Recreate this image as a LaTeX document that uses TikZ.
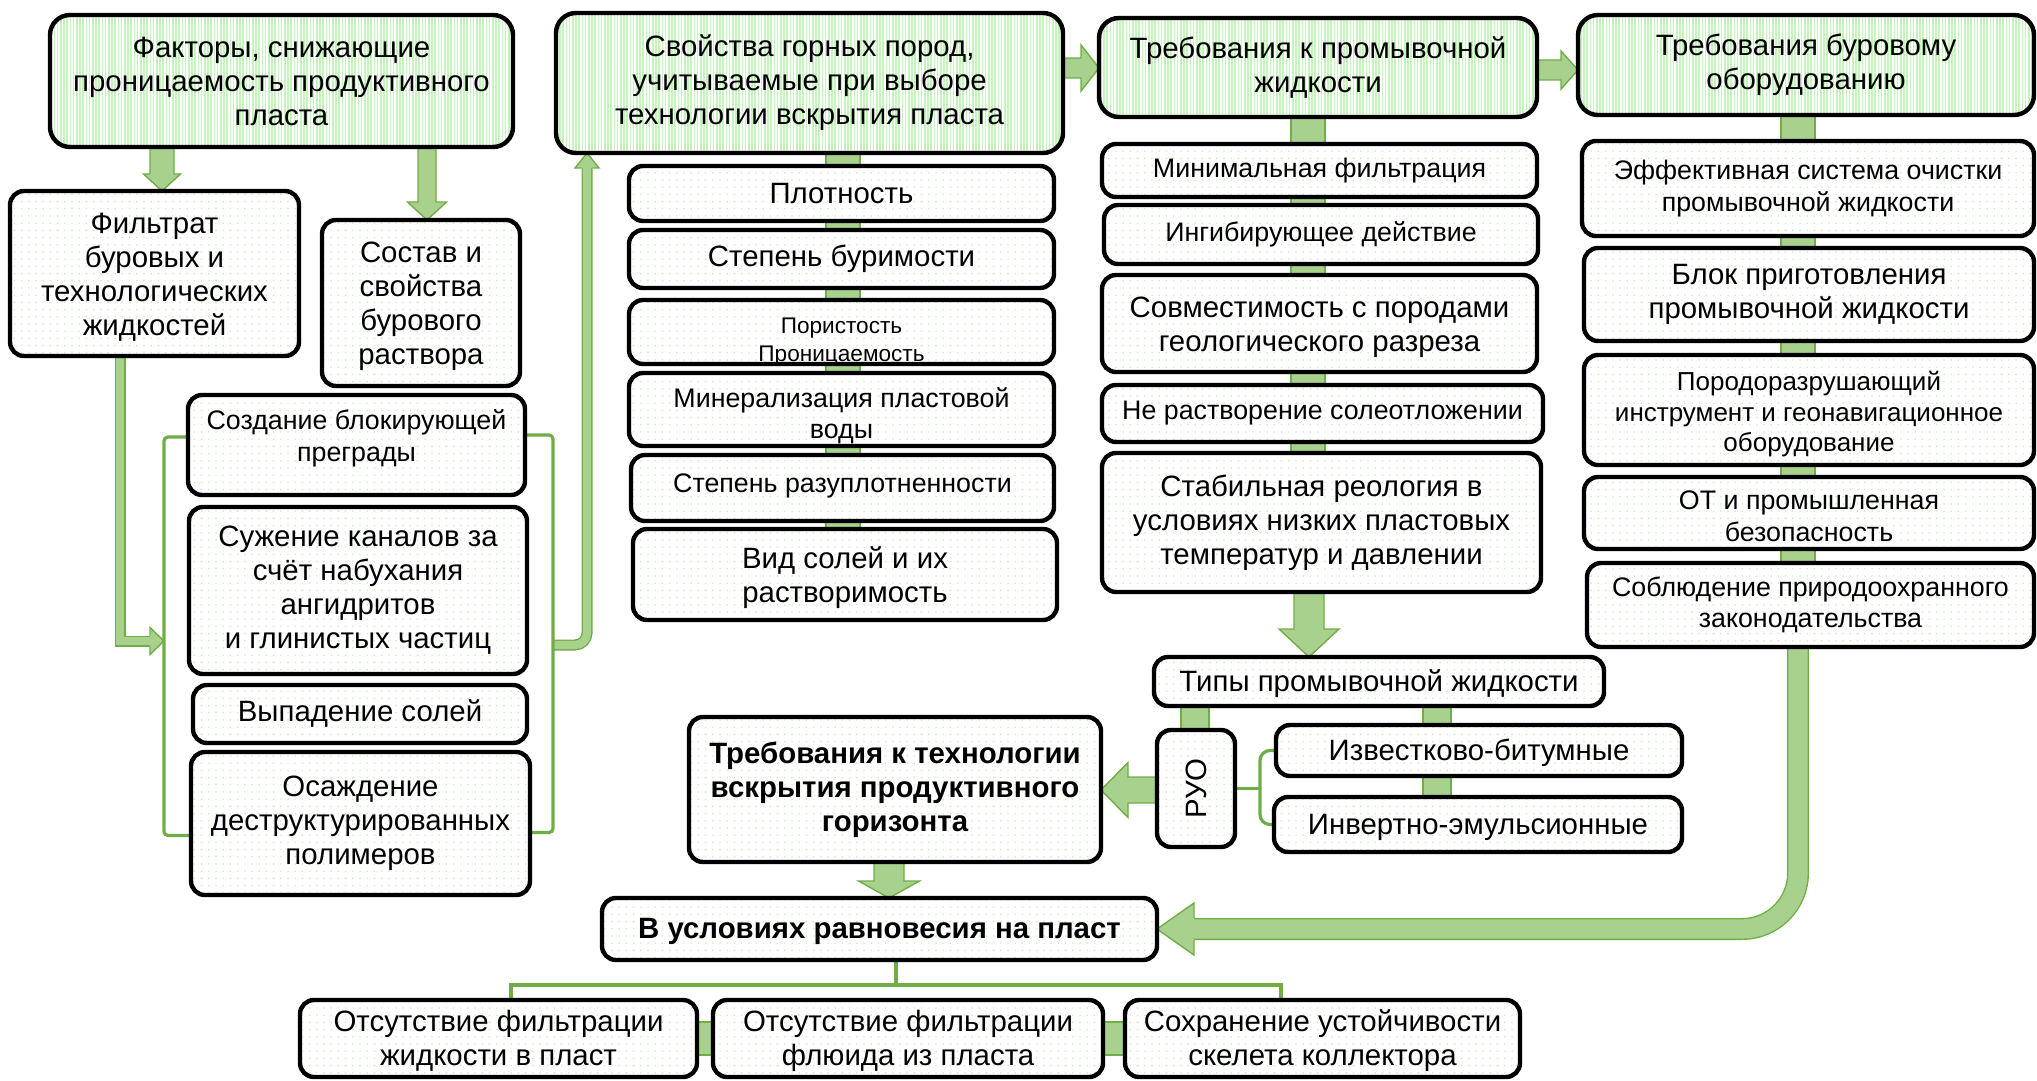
\documentclass[tikz,border=0pt]{standalone}
\usepackage{fontspec}
\usepackage{graphicx}
\setmainfont{Liberation Sans}
\usetikzlibrary{calc,patterns.meta}
\pgfdeclarelayer{bg}
\pgfsetlayers{bg,main}
\definecolor{barg}{RGB}{169,209,142}
\definecolor{bard}{RGB}{112,173,71}
\definecolor{stripe}{RGB}{196,244,188}
\definecolor{dotc}{RGB}{196,234,186}
\newcommand\fA{\fontsize{14.7}{17}\selectfont}
\newcommand\fB{\fontsize{13.4}{15.8}\selectfont}
\newcommand\fC{\fontsize{13}{15.3}\selectfont}
\newcommand\fD{\fontsize{11.3}{13.6}\selectfont}
% text block moved up/down inside its box without changing the box size
\newcommand\mv[2]{\raisebox{#1}[\height][\depth]{\begin{tabular}{@{}c@{}}#2\end{tabular}}}
% box given by its corners x1 y1 x2 y2 (pixel grid)
\newcommand\bx[7]{\node[#6, minimum width={(#4-#2)*0.5pt}, minimum height={(#5-#3)*0.5pt}] (#1) at ({(#2+#4)/2},{(#3+#5)/2}) {#7};}
% block arrows: from, to, shaft width, head width, head length
\newcommand\arrD[5]{\path[blk] let \p1=#1, \p2=#2 in
  ({\x1-#3/2},\y1) -- ({\x1+#3/2},\y1) -- ({\x1+#3/2},{\y2+#5}) -- ({\x1+#4/2},{\y2+#5})
  -- (\x1,\y2) -- ({\x1-#4/2},{\y2+#5}) -- ({\x1-#3/2},{\y2+#5}) -- cycle;}
\newcommand\arrR[5]{\path[blk] let \p1=#1, \p2=#2 in
  (\x1,{\y1+#3/2}) -- ({\x2-#5},{\y1+#3/2}) -- ({\x2-#5},{\y1+#4/2}) -- (\x2,\y1)
  -- ({\x2-#5},{\y1-#4/2}) -- ({\x2-#5},{\y1-#3/2}) -- (\x1,{\y1-#3/2}) -- cycle;}
\newcommand\arrL[5]{\path[blk] let \p1=#1, \p2=#2 in
  (\x1,{\y1+#3/2}) -- ({\x2+#5},{\y1+#3/2}) -- ({\x2+#5},{\y1+#4/2}) -- (\x2,\y1)
  -- ({\x2+#5},{\y1-#4/2}) -- ({\x2+#5},{\y1-#3/2}) -- (\x1,{\y1-#3/2}) -- cycle;}
% arrow heads only: tip, shaft width, head width, head length
\newcommand\hdR[4]{\path[blk] let \p1=#1 in ({\x1-#4},{\y1+#2/2}) -- ({\x1-#4},{\y1+#3/2}) -- (\x1,\y1) -- ({\x1-#4},{\y1-#3/2}) -- ({\x1-#4},{\y1-#2/2});}
\newcommand\hdL[4]{\path[blk] let \p1=#1 in ({\x1+#4},{\y1+#2/2}) -- ({\x1+#4},{\y1+#3/2}) -- (\x1,\y1) -- ({\x1+#4},{\y1-#3/2}) -- ({\x1+#4},{\y1-#2/2});}
\newcommand\hdU[4]{\path[blk] let \p1=#1 in ({\x1-#2/2},{\y1-#4}) -- ({\x1-#3/2},{\y1-#4}) -- (\x1,\y1) -- ({\x1+#3/2},{\y1-#4}) -- ({\x1+#2/2},{\y1-#4});}
% outlined thick shaft: outer width, inner width, options, path
\newcommand\shaft[4]{\draw[bard, line width=#1, #3] #4; \draw[barg, line width=#2, #3] #4;}

\begin{document}
\begin{tikzpicture}[x=0.5pt,y=-0.5pt,
  box/.style={draw=black, line width=2.2pt, align=center, inner sep=0pt, outer sep=0pt, preaction={fill=white}},
  hdr/.style={box, rounded corners=10pt, pattern={Lines[angle=90,distance=1.6pt,line width=0.8pt]}, pattern color=stripe, font=\fA},
  itm/.style={box, rounded corners=7pt, pattern={Dots[distance=3.6pt,radius=0.4pt]}, pattern color=dotc, font=\fA},
  blk/.style={fill=barg, draw=bard, line width=0.7pt, line join=miter},
  bar/.style={fill=barg, draw=bard, line width=0.6pt},
  brk/.style={draw=bard, line width=1.6pt}]
\useasboundingbox (0,0) rectangle (2037,1080);

% column headers
\bx{A}{50}{15}{513}{147}{hdr}{Факторы, снижающие\\проницаемость продуктивного\\пласта}
\bx{B}{556}{13}{1063}{153}{hdr}{Свойства горных пород,\\учитываемые при выборе\\технологии вскрытия пласта}
\bx{C}{1099}{18}{1537}{117}{hdr}{Требования к промывочной\\жидкости}
\bx{D}{1578}{15}{2034}{115}{hdr}{Требования буровому\\оборудованию}

% factors
\bx{E}{10}{191}{299}{356}{itm}{\mv{-2pt}{Фильтрат\\буровых и\\технологических\\жидкостей}}
\bx{F}{322}{220}{520}{386}{itm}{\mv{-2pt}{Состав и\\свойства\\бурового\\раствора}}
\bx{G}{188}{395}{525}{495}{itm,font=\fB}{\mv{3pt}{Создание блокирующей\\преграды}}
\bx{H}{189}{507}{527}{674}{itm}{Сужение каналов за\\счёт набухания\\ангидритов\\и глинистых частиц}
\bx{I}{193}{685}{527}{743}{itm}{Выпадение солей}
\bx{J}{191}{752}{530}{895}{itm}{Осаждение\\деструктурированных\\полимеров}

% rock properties
\bx{B1}{629}{166}{1054}{221}{itm}{Плотность}
\bx{B2}{629}{230}{1054}{288}{itm}{Степень буримости}
\bx{B3}{629}{300}{1054}{364}{itm,font=\fD}{\mv{-5pt}{Пористость\\Проницаемость}}
\bx{B4}{629}{373}{1054}{446}{itm,font=\fB}{\mv{-3.5pt}{Минерализация пластовой\\воды}}
\bx{B5}{631}{455}{1054}{521}{itm,font=\fB}{\mv{1pt}{Степень разуплотненности}}
\bx{B6}{633}{529}{1057}{620}{itm}{\mv{-2pt}{Вид солей и их\\растворимость}}

% drilling fluid requirements
\bx{C1}{1102}{144}{1537}{197}{itm,font=\fB}{Минимальная фильтрация}
\bx{C2}{1104}{205}{1538}{264}{itm,font=\fB}{Ингибирующее действие}
\bx{C3}{1102}{275}{1537}{372}{itm}{\mv{-2pt}{Совместимость с породами\\геологического разреза}}
\bx{C4}{1102}{385}{1543}{442}{itm,font=\fB}{Не растворение солеотложении}
\bx{C5}{1102}{453}{1541}{592}{itm}{Стабильная реология в\\условиях низких пластовых\\температур и давлении}

% equipment requirements
\bx{D1}{1582}{141}{2034}{236}{itm,font=\fB}{Эффективная система очистки\\промывочной жидкости}
\bx{D2}{1584}{248}{2034}{341}{itm}{Блок приготовления\\промывочной жидкости}
\bx{D3}{1584}{355}{2034}{465}{itm,font=\fC}{\mv{-2.5pt}{Породоразрушающий\\инструмент и геонавигационное\\оборудование}}
\bx{D4}{1584}{477}{2034}{549}{itm,font=\fB}{\mv{-3pt}{ОТ и промышленная\\безопасность}}
\bx{D5}{1587}{563}{2034}{647}{itm,font=\fB}{Соблюдение природоохранного\\законодательства}

% fluid types
\bx{T}{1154}{657}{1604}{706}{itm}{\mv{-1.5pt}{Типы промывочной жидкости}}
\bx{ruo}{1157}{730}{1235}{847}{itm}{\rotatebox{90}{РУО}}
\bx{izv}{1276}{725}{1682}{776}{itm}{\mv{-1.5pt}{Известково-битумные}}
\bx{inv}{1274}{797}{1682}{852}{itm}{\mv{-1.5pt}{Инвертно-эмульсионные}}

% results
\bx{TT}{689}{717}{1101}{862}{itm,font=\fA\bfseries}{Требования к технологии\\вскрытия продуктивного\\горизонта}
\bx{V}{602}{898}{1157}{960}{itm,font=\fA\bfseries}{\mv{-1.5pt}{В условиях равновесия на пласт}}
\bx{K1}{300}{1000}{697}{1077}{itm}{\mv{-1.5pt}{Отсутствие фильтрации\\жидкости в пласт}}
\bx{K2}{713}{1000}{1103}{1077}{itm}{\mv{-1.5pt}{Отсутствие фильтрации\\флюида из пласта}}
\bx{K3}{1125}{1000}{1520}{1077}{itm}{\mv{-1.5pt}{Сохранение устойчивости\\скелета коллектора}}

\coordinate (lbm) at (164,641);
\coordinate (rbm) at (553,645);

\begin{pgfonlayer}{bg}
  \fill[white] (0,0) rectangle (2037,1080);
  % column spines
  \path[bar] (826,0 |- B.south) rectangle (860,0 |- B6.north);
  \path[bar] (1291,0 |- C.south) rectangle (1325,0 |- C5.north);
  \path[bar] (1781,0 |- D.south) rectangle (1815,0 |- D5.north);
  \path[bar] (1181,0 |- T.south) rectangle (1209,0 |- ruo.north);
  \path[bar] (1423,0 |- T.south) rectangle (1451,0 |- inv.north);
  \path[bar] (K1.east |- 0,1022) rectangle (K2.west |- 0,1055);
  \path[bar] (K2.east |- 0,1022) rectangle (K3.west |- 0,1055);

  % straight block arrows
  \arrD{(162,0 |- A.south)}{(162,0 |- E.north)}{12pt}{18.5pt}{8.5pt}
  \arrD{(427,0 |- A.south)}{(427,0 |- F.north)}{9pt}{19.5pt}{9pt}
  \arrR{(B.east |- 0,68)}{(C.west |- 0,68)}{10pt}{23pt}{9pt}
  \arrR{(C.east |- 0,70)}{(D.west |- 0,70)}{10pt}{19pt}{8.5pt}
  \arrD{(1309,0 |- C5.south)}{(1309,0 |- T.north)}{15pt}{30pt}{14pt}
  \arrL{(ruo.west |- 0,790)}{(TT.east |- 0,790)}{13pt}{27.5pt}{13.5pt}
  \arrD{(889,0 |- TT.south)}{(889,0 |- V.north)}{15pt}{30.5pt}{8.5pt}

  % bent arrows
  \shaft{5.5pt}{4.1pt}{}{(120,0 |- E.south) |- ($(lbm)+(-14,0)$)}
  \hdR{(lbm)}{5.5pt}{13.5pt}{7pt}
  \shaft{5.5pt}{4.1pt}{rounded corners=6pt}{(rbm) -- (587,0 |- rbm) -- ($(587,0 |- B.south)+(0,15)$)}
  \hdU{(587,0 |- B.south)}{5.5pt}{12pt}{7.5pt}
  \shaft{11pt}{9.6pt}{rounded corners=28pt}{(1798,0 |- D5.south) |- ($(V.east)+(37,0)$)}
  \hdL{(V.east)}{11pt}{26pt}{18.5pt}

  % brackets
  \draw[brk, rounded corners=2pt] ([yshift=4pt]G.west) -| (lbm) |- ([yshift=-6pt]J.west);
  \draw[brk, rounded corners=2pt] ([yshift=5pt]G.east) -| (rbm) |- ([yshift=-4.5pt]J.east);
  \draw[brk] (ruo.east) -- (1260,0 |- ruo.east);
  \draw[brk, rounded corners=5pt] (izv.west) -| (1260,0 |- ruo.east) |- (inv.west);
  \draw[brk] (896,0 |- V.south) -- (896,985);
  \draw[brk] (511,0 |- K1.north) |- (1281,985) -- (1281,0 |- K3.north);
\end{pgfonlayer}
\end{tikzpicture}
\end{document}
